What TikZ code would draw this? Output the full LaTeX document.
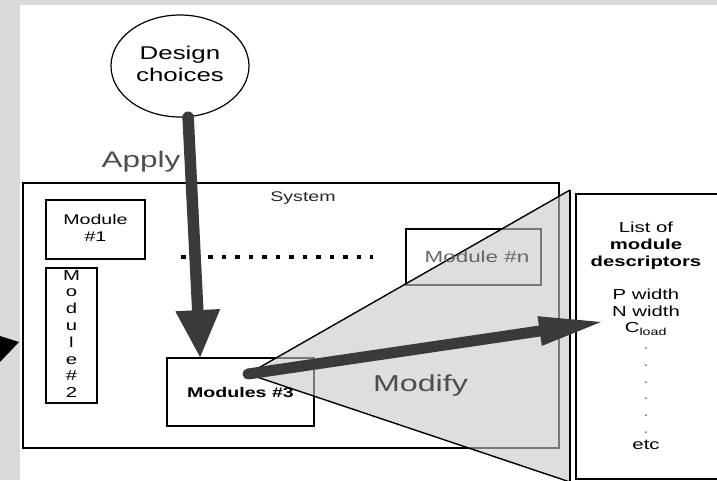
\documentclass[tikz,border=0pt]{standalone}
\usepackage{fontspec}
\setmainfont{Liberation Sans}
\usetikzlibrary{arrows.meta,shapes.geometric}

% text in this figure is set wide
\newcommand\hstretch[1]{\scalebox{1.4}[1]{#1}}
\newcommand\wstack[1]{\scalebox{1.4}[1]{\begin{tabular}{@{}c@{}}#1\end{tabular}}}
\newcommand\fs[2]{\fontsize{#1pt}{#2pt}\selectfont}

\definecolor{panelgray}{RGB}{218,218,218}
\definecolor{arrowgray}{RGB}{58,58,58}
\definecolor{labelgray}{RGB}{77,77,77}
\definecolor{faintgray}{RGB}{102,102,102}

\begin{document}
\begin{tikzpicture}[x=1pt,y=-1pt,
  frame/.style={draw, line width=1.8pt, inner sep=0pt, rectangle},
  bigarrow/.style={draw=arrowgray, line cap=round},
  biglabel/.style={text=labelgray, anchor=base, inner sep=0pt}]

\useasboundingbox (0,0) rectangle (717,480);
\fill[panelgray] (0,0) rectangle (717,480);
\fill[white] (20,5) rectangle (717,480);
% head of an arrow entering from the margin
\fill[black] (0,336) -- (19,342) -- (0,362) -- cycle;

% design choices
\node[ellipse, draw, line width=1.2pt, minimum width=138pt, minimum height=102pt,
      inner sep=0pt, font=\fs{18.5}{22}] (choices) at (180,66) {\wstack{Design\\choices}};

% the system and its modules
\node[frame, minimum width=536pt, minimum height=265pt] (system) at (291,315.5) {};
\node[font=\fs{14}{16}, text=black!85] (systemlabel) at (303,198) {\hstretch{System}};
\node[frame, minimum width=99pt, minimum height=59pt, font=\fs{14}{17}] (m1) at (95.5,229.5) {\wstack{Module\\\#1}};
\node[frame, minimum width=51pt, minimum height=135pt, font=\fs{14.5}{16.8}] (m2) at (71.5,335.5)
  {\wstack{M\\o\\d\\u\\l\\e\\\#\\2}};
\node[frame, minimum width=135pt, minimum height=56pt] (mn) at (473.5,257) {};
\node[frame, minimum width=147pt, minimum height=68pt, font=\bfseries\fs{14}{17}] (m3) at (240.5,392)
  {\hstretch{Modules \#3}};

% ellipsis between the modules
\coordinate (dotsL) at (181,257);
\coordinate (dotsR) at (373,257);
\draw[line width=4.5pt, dash pattern=on 4.5pt off 9pt] (dotsL) -- (dotsR);

% zoom wedge from module 3 to its descriptor list
\coordinate (apex) at (248,374);
\coordinate (ftop) at (570,190);
\coordinate (fbot) at (570,482);
\fill[gray!42, fill opacity=0.6] (apex) -- (ftop) -- (fbot) -- cycle;
\draw[line width=1.4pt] (fbot) -- (apex) -- (ftop);
\draw[line width=2.2pt] (ftop) -- (fbot);

\node[font=\fs{16}{18}, text=faintgray] (mnlabel) at (477,257) {\hstretch{Module \#n}};

% descriptor list
\node[frame, minimum width=146pt, minimum height=285pt, anchor=north west] (list) at (575,193) {};
\node[font=\fs{14.5}{16.7}] (listtext) at (646,338)
  {\wstack{List of\\\textbf{module}\\\textbf{descriptors}\\ \\P width\\N width\\C\textsubscript{load}\\
   {\color{gray}.}\\{\color{gray}.}\\{\color{gray}.}\\{\color{gray}.}\\{\color{gray}.}\\{\color{gray}.}\\etc}};

\node[biglabel, font=\fs{22.5}{26}] (apply) at (141,167) {\hstretch{Apply}};
\node[biglabel, font=\fs{23}{26}] (modify) at (420.5,391.5) {\hstretch{Modify}};

% apply and modify arrows
\draw[bigarrow, line width=11.5pt, -{Triangle[length=47pt, width=45pt, line width=0pt]}]
  (choices.-81) -- ([xshift=34pt]m3.north west);
\draw[bigarrow, line width=11pt, -{Triangle[length=62pt, width=30pt, line width=0pt]}]
  (apex) -- ([shift={(26,129)}]list.north west);

\end{tikzpicture}
\end{document}
